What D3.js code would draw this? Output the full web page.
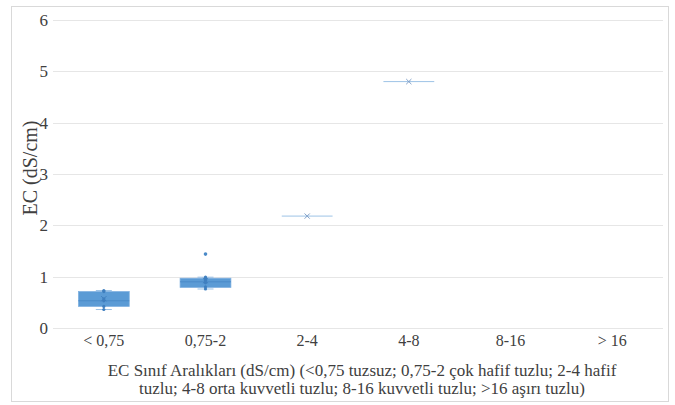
<!DOCTYPE html>
<html><head><meta charset="utf-8">
<script src="https://cdn.jsdelivr.net/npm/d3@7"></script>
<style>body{margin:0;background:#fff}svg{display:block}</style>
</head><body><svg id="c" width="675" height="405" font-family="Liberation Serif" fill="#404040"></svg>
<script>
const categories = ["< 0,75", "0,75-2", "2-4", "4-8", "8-16", "> 16"];
const boxMin    = [0.36, 0.76, 2.18, 4.80, null, null];
const boxQ1     = [0.42, 0.79, 2.18, 4.80, null, null];
const boxMedian = [0.53, 0.90, 2.18, 4.80, null, null];
const boxQ3     = [0.71, 0.97, 2.18, 4.80, null, null];
const boxMax    = [0.73, 0.99, 2.18, 4.80, null, null];
const boxMean   = [0.57, 0.92, 2.18, 4.80, null, null];
const innerPoints = [[0.36, 0.42, 0.53, 0.57, 0.71, 0.73], [0.76, 0.80, 0.88, 0.93, 0.97, 0.99], [], [], [], []];
const outliers  = [[], [1.44], [], [], [], []];
const yTicks = [0, 1, 2, 3, 4, 5, 6];
const yTitle = "EC (dS/cm)";
const xTitleLines = ["EC Sınıf Aralıkları (dS/cm) (<0,75 tuzsuz; 0,75-2 çok hafif tuzlu; 2-4 hafif",
                     "tuzlu; 4-8 orta kuvvetli tuzlu; 8-16 kuvvetli tuzlu; >16 aşırı tuzlu)"];

const FONT = "Liberation Serif";
const svg = d3.select("#c");
const m = {left: 53, right: 663, top: 20, bottom: 328};
svg.append("rect").attr("x", 11.5).attr("y", 6.5).attr("width", 657).attr("height", 395)
  .attr("fill", "#fff").attr("stroke", "#D9D9D9");

const x = d3.scaleBand().domain(categories).range([m.left, m.right]);
const y = d3.scaleLinear().domain([0, 6]).range([m.bottom, m.top]);

// gridlines
svg.append("g").selectAll("line").data(yTicks).join("line")
  .attr("x1", m.left).attr("x2", m.right)
  .attr("y1", d => Math.round(y(d)) + 0.5).attr("y2", d => Math.round(y(d)) + 0.5)
  .attr("stroke", "#E6E6E6").attr("stroke-width", 1);

// y axis labels
const yAxis = svg.append("g").attr("transform", `translate(${m.left},0)`)
  .call(d3.axisLeft(y).tickValues(yTicks).tickSize(0).tickPadding(5).tickFormat(d3.format("d")));
yAxis.attr("font-family", FONT).attr("font-size", 17);
yAxis.select(".domain").remove();
yAxis.selectAll("text").attr("fill", "#404040");

// x axis labels
const xAxis = svg.append("g").attr("transform", `translate(0,${m.bottom})`)
  .call(d3.axisBottom(x).tickSize(0).tickPadding(7));
xAxis.attr("font-family", FONT).attr("font-size", 16);
xAxis.select(".domain").remove();
xAxis.selectAll("text").attr("fill", "#404040");

// titles
svg.append("text").attr("transform", `translate(37,${(m.top + m.bottom) / 2 - 6}) rotate(-90)`)
  .attr("text-anchor", "middle").attr("font-size", 20).attr("fill", "#404040").text(yTitle);
svg.append("text").attr("x", 362).attr("y", 376).attr("text-anchor", "middle").attr("font-size", 17).attr("fill", "#404040").text(xTitleLines[0]);
svg.append("text").attr("x", 362).attr("y", 394).attr("text-anchor", "middle").attr("font-size", 17).attr("fill", "#404040").text(xTitleLines[1]);

// boxes
const bw = x.bandwidth() * 0.5;
const g = svg.append("g");
categories.forEach((c, i) => {
  if (boxMedian[i] == null) return;
  const cx = x(c) + x.bandwidth() / 2;
  const single = boxMin[i] === boxMax[i];
  if (single) {
    g.append("line").attr("x1", cx - bw / 2).attr("x2", cx + bw / 2)
      .attr("y1", y(boxMedian[i])).attr("y2", y(boxMedian[i]))
      .attr("stroke", "#9DC3E6").attr("stroke-width", 1);
  } else {
    g.append("line").attr("x1", cx).attr("x2", cx).attr("y1", y(boxMax[i])).attr("y2", y(boxQ3[i])).attr("stroke", "#7FAADB");
    g.append("line").attr("x1", cx).attr("x2", cx).attr("y1", y(boxQ1[i])).attr("y2", y(boxMin[i])).attr("stroke", "#7FAADB");
    g.append("line").attr("x1", cx - 8).attr("x2", cx + 8).attr("y1", y(boxMax[i])).attr("y2", y(boxMax[i])).attr("stroke", "#9DC3E6");
    g.append("line").attr("x1", cx - 8).attr("x2", cx + 8).attr("y1", y(boxMin[i])).attr("y2", y(boxMin[i])).attr("stroke", "#9DC3E6");
    g.append("rect").attr("x", cx - bw / 2).attr("y", y(boxQ3[i])).attr("width", bw)
      .attr("height", y(boxQ1[i]) - y(boxQ3[i])).attr("fill", "#5B9BD5").attr("stroke", "#7FB0E0").attr("stroke-width", 0.75);
    g.append("line").attr("x1", cx - bw / 2).attr("x2", cx + bw / 2)
      .attr("y1", y(boxMedian[i])).attr("y2", y(boxMedian[i])).attr("stroke", "#4A8AC8").attr("stroke-width", 1);
    innerPoints[i].forEach(v => g.append("circle").attr("cx", cx).attr("cy", y(v)).attr("r", 1.6).attr("fill", "#3F7FBF"));
  }
  const my = y(boxMean[i]), s = 2.6;
  const mc = single ? "#7F9FC8" : "#3F7FBF";
  g.append("path").attr("d", `M${cx - s},${my - s}L${cx + s},${my + s}M${cx - s},${my + s}L${cx + s},${my - s}`)
    .attr("fill", "none").attr("stroke", mc).attr("stroke-width", 1);
  outliers[i].forEach(v => g.append("circle").attr("cx", cx).attr("cy", y(v)).attr("r", 1.8).attr("fill", "#4A8AC8"));
});
</script></body></html>
